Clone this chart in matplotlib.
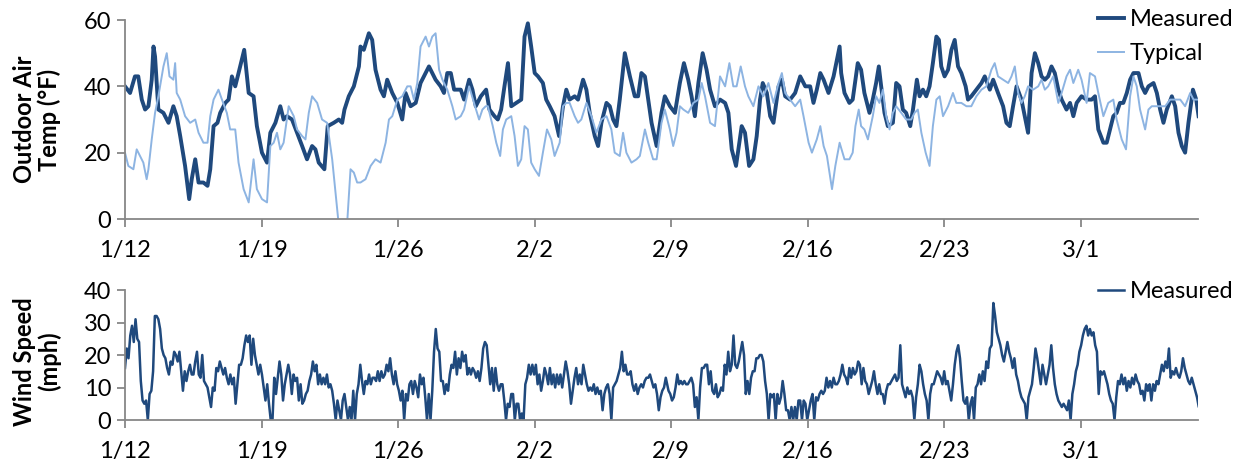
"""Outdoor air temperature (measured vs typical) and measured wind speed, 1/12 - 3/7."""

import matplotlib

matplotlib.use("Agg")
import matplotlib.pyplot as plt
import numpy as np

DATE_TICKS = [0, 7, 14, 21, 28, 35, 42, 49]  # days since 1/12
DATE_LABELS = ["1/12", "1/19", "1/26", "2/2", "2/9", "2/16", "2/23", "3/1"]

# (day since 1/12, degF)
measured_temp = [
    (0.00, 40), (0.26, 38), (0.51, 43), (0.68, 43), (0.86, 36), (1.03, 33), (1.20, 34), (1.37, 42),
    (1.46, 52), (1.54, 49), (1.71, 33), (1.97, 32), (2.23, 29), (2.48, 34), (2.65, 31), (2.83, 25),
    (3.08, 16), (3.29, 6), (3.42, 12), (3.60, 18), (3.77, 11), (4.02, 11), (4.23, 10), (4.37, 15),
    (4.54, 28), (4.74, 29), (4.88, 32), (5.14, 35), (5.31, 36), (5.48, 43), (5.65, 40), (5.82, 44),
    (6.11, 51), (6.34, 38), (6.59, 37), (6.76, 28), (7.02, 20), (7.28, 17), (7.45, 26), (7.71, 29),
    (7.96, 34), (8.13, 30), (8.30, 31), (8.56, 30), (8.82, 26), (9.08, 22), (9.33, 18), (9.59, 22),
    (9.76, 21), (9.93, 17), (10.22, 15), (10.39, 28), (10.70, 29), (10.96, 30), (11.13, 29), (11.25, 33),
    (11.47, 37), (11.73, 40), (11.99, 46), (12.07, 52), (12.24, 51), (12.50, 56), (12.67, 54), (12.84, 45),
    (13.10, 39), (13.27, 37), (13.44, 42), (13.70, 38), (13.96, 35), (14.21, 30), (14.38, 38), (14.64, 34),
    (14.90, 35), (15.15, 41), (15.41, 44), (15.58, 46), (15.92, 42), (16.18, 40), (16.35, 38), (16.52, 44),
    (16.70, 44), (16.87, 39), (17.04, 39), (17.21, 39), (17.38, 36), (17.64, 42), (17.81, 39), (17.98, 34),
    (18.24, 37), (18.51, 39), (18.68, 33), (18.94, 31), (19.11, 30), (19.28, 33), (19.45, 40), (19.63, 47),
    (19.80, 34), (20.05, 35), (20.31, 36), (20.48, 55), (20.65, 59), (20.82, 52), (21.00, 44), (21.17, 43),
    (21.42, 41), (21.59, 36), (21.77, 34), (22.02, 31), (22.25, 25), (22.45, 34), (22.62, 39), (22.79, 36),
    (23.05, 37), (23.22, 36), (23.48, 42), (23.65, 39), (23.82, 32), (24.08, 25), (24.25, 22), (24.42, 29),
    (24.68, 35), (24.85, 34), (25.02, 30), (25.19, 28), (25.36, 36), (25.62, 50), (25.88, 43), (26.13, 37),
    (26.30, 37), (26.47, 44), (26.65, 43), (26.82, 36), (26.99, 29), (27.25, 22), (27.50, 32), (27.67, 37),
    (27.93, 34), (28.19, 32), (28.44, 41), (28.65, 47), (28.87, 42), (29.04, 37), (29.21, 31), (29.39, 41),
    (29.61, 50), (29.81, 45), (29.99, 39), (30.24, 34), (30.50, 36), (30.76, 35), (30.93, 32), (31.10, 21),
    (31.32, 16), (31.61, 28), (31.78, 26), (31.99, 16), (32.21, 18), (32.38, 25), (32.55, 36), (32.69, 41),
    (32.90, 38), (33.07, 31), (33.24, 29), (33.50, 40), (33.67, 42), (33.84, 37), (34.09, 36), (34.35, 38),
    (34.61, 43), (34.87, 40), (35.12, 40), (35.29, 35), (35.46, 39), (35.64, 44), (35.81, 42), (36.06, 38),
    (36.32, 43), (36.49, 48), (36.63, 52), (36.71, 44), (36.88, 38), (37.13, 35), (37.30, 36), (37.56, 47),
    (37.73, 45), (37.90, 38), (38.16, 32), (38.33, 36), (38.50, 41), (38.64, 46), (38.76, 40), (38.93, 32),
    (39.10, 28), (39.36, 29), (39.53, 41), (39.70, 40), (39.87, 33), (40.04, 32), (40.25, 28), (40.39, 33),
    (40.59, 42), (40.73, 37), (40.90, 39), (41.07, 37), (41.24, 40), (41.41, 47), (41.59, 55), (41.72, 54),
    (41.84, 46), (42.01, 43), (42.19, 45), (42.36, 51), (42.53, 54), (42.70, 46), (42.87, 44), (43.09, 40),
    (43.21, 36), (43.38, 37), (43.64, 39), (43.90, 41), (44.07, 43), (44.33, 39), (44.50, 42), (44.75, 38),
    (45.01, 34), (45.18, 29), (45.35, 28), (45.52, 34), (45.70, 40), (45.95, 36), (46.12, 31), (46.29, 26),
    (46.47, 44), (46.64, 50), (46.81, 47), (46.98, 43), (47.15, 42), (47.32, 43), (47.49, 46), (47.66, 44),
    (47.84, 39), (48.01, 36), (48.26, 33), (48.44, 35), (48.61, 31), (48.78, 35), (49.03, 37), (49.29, 36),
    (49.55, 36), (49.72, 37), (49.89, 27), (50.15, 23), (50.32, 23), (50.49, 27), (50.66, 31), (50.83, 32),
    (51.00, 35), (51.17, 35), (51.35, 38), (51.52, 42), (51.69, 44), (51.95, 44), (52.12, 40), (52.29, 38),
    (52.46, 40), (52.72, 41), (52.89, 38), (53.06, 33), (53.23, 29), (53.40, 33), (53.66, 37), (53.83, 34),
    (54.00, 26), (54.17, 22), (54.34, 20), (54.51, 29), (54.74, 39), (54.91, 36), (55.03, 31),
]

typical_temp = [
    (0.00, 20), (0.17, 16), (0.43, 15), (0.60, 21), (0.77, 19), (0.94, 17), (1.11, 12), (1.20, 15),
    (1.37, 24), (1.54, 32), (1.71, 37), (1.97, 46), (2.14, 50), (2.28, 43), (2.48, 42), (2.57, 47),
    (2.65, 38), (2.83, 36), (3.08, 31), (3.34, 29), (3.60, 30), (3.77, 26), (4.02, 23), (4.23, 23),
    (4.37, 31), (4.54, 36), (4.79, 39), (4.97, 36), (5.22, 32), (5.39, 27), (5.65, 27), (5.82, 17),
    (6.08, 9), (6.34, 5), (6.59, 18), (6.76, 9), (7.02, 6), (7.28, 5), (7.45, 22), (7.62, 23),
    (7.79, 26), (7.96, 21), (8.13, 23), (8.39, 34), (8.65, 31), (8.82, 27), (9.08, 25), (9.25, 24),
    (9.42, 32), (9.59, 37), (9.85, 35), (10.10, 30), (10.36, 29), (10.62, 18), (10.79, 8), (10.96, -2),
    (11.22, -2), (11.39, -1), (11.56, 15), (11.73, 14), (11.90, 11), (12.07, 11), (12.33, 12), (12.59, 16),
    (12.84, 18), (13.10, 17), (13.36, 23), (13.53, 30), (13.70, 31), (13.96, 36), (14.21, 37), (14.47, 40),
    (14.64, 40), (14.81, 36), (14.98, 41), (15.15, 52), (15.41, 55), (15.58, 52), (15.75, 55), (15.92, 56),
    (16.10, 45), (16.27, 42), (16.52, 39), (16.78, 34), (16.95, 30), (17.21, 31), (17.38, 33), (17.64, 40),
    (17.89, 35), (18.15, 30), (18.32, 33), (18.49, 34), (18.60, 34), (18.85, 28), (19.03, 23), (19.23, 19),
    (19.37, 27), (19.54, 30), (19.80, 31), (19.97, 25), (20.14, 16), (20.31, 18), (20.48, 28), (20.65, 27),
    (20.82, 17), (21.00, 15), (21.22, 13), (21.42, 20), (21.63, 27), (21.85, 24), (22.02, 19), (22.28, 23),
    (22.45, 34), (22.62, 35), (22.79, 35), (23.05, 31), (23.22, 29), (23.39, 30), (23.65, 35), (23.91, 31),
    (24.16, 26), (24.42, 30), (24.68, 31), (24.93, 27), (25.10, 20), (25.36, 19), (25.53, 26), (25.70, 20),
    (25.96, 17), (26.22, 18), (26.39, 19), (26.65, 27), (26.82, 23), (27.07, 18), (27.25, 18), (27.50, 29),
    (27.67, 33), (27.93, 27), (28.10, 22), (28.27, 26), (28.44, 34), (28.62, 33), (28.87, 32), (29.13, 35),
    (29.39, 36), (29.56, 41), (29.73, 37), (29.99, 29), (30.24, 28), (30.50, 43), (30.76, 40), (30.98, 47),
    (31.18, 40), (31.35, 40), (31.56, 46), (31.78, 40), (31.95, 37), (32.21, 34), (32.47, 40), (32.72, 37),
    (32.98, 41), (33.24, 35), (33.50, 41), (33.67, 44), (33.84, 38), (34.09, 36), (34.35, 34), (34.61, 36),
    (34.78, 31), (35.04, 23), (35.21, 20), (35.46, 24), (35.64, 28), (35.81, 22), (35.98, 19), (36.24, 9),
    (36.41, 16), (36.63, 23), (36.88, 18), (37.13, 18), (37.30, 20), (37.44, 28), (37.61, 33), (37.73, 28),
    (37.90, 27), (38.08, 24), (38.33, 31), (38.50, 37), (38.67, 35), (38.85, 39), (39.02, 31), (39.19, 27),
    (39.36, 32), (39.53, 34), (39.79, 32), (40.04, 30), (40.30, 30), (40.47, 32), (40.64, 33), (40.82, 26),
    (41.04, 20), (41.24, 16), (41.41, 28), (41.59, 36), (41.76, 37), (41.93, 31), (42.19, 34), (42.44, 38),
    (42.61, 35), (42.87, 35), (43.13, 34), (43.38, 34), (43.64, 37), (43.90, 39), (44.15, 40), (44.41, 45),
    (44.58, 47), (44.75, 43), (45.01, 42), (45.27, 41), (45.44, 43), (45.61, 46), (45.78, 38), (45.95, 35),
    (46.12, 37), (46.29, 40), (46.55, 39), (46.81, 40), (46.98, 42), (47.15, 39), (47.32, 40), (47.58, 43),
    (47.84, 35), (48.01, 38), (48.26, 43), (48.44, 45), (48.61, 41), (48.86, 45), (49.03, 42), (49.29, 35),
    (49.46, 44), (49.72, 43), (49.89, 38), (50.15, 31), (50.40, 35), (50.66, 36), (50.83, 30), (51.09, 24),
    (51.31, 21), (51.52, 37), (51.69, 43), (51.86, 40), (52.03, 33), (52.29, 27), (52.46, 33), (52.63, 34),
    (52.80, 34), (53.06, 34), (53.32, 34), (53.57, 36), (53.83, 36), (54.09, 36), (54.34, 34), (54.60, 38),
    (54.77, 36), (55.03, 36),
]

# measured wind speed (mph), one reading every WIND_STEP days
WIND_STEP = 0.09
WIND_JAN_START = 0.0
wind_jan = [
    16, 22, 19, 26, 29, 24, 31, 25, 24, 12, 6, 5, 6, 0, 8, 9, 15, 32, 32, 31,
    28, 22, 20, 19, 16, 14, 18, 17, 21, 20, 18, 21, 15, 9, 15, 12, 15, 17, 14, 14,
    18, 21, 14, 13, 20, 12, 11, 10, 7, 4, 10, 9, 16, 15, 18, 16, 14, 16, 13, 11,
    14, 11, 13, 5, 11, 17, 17, 19, 23, 26, 24, 26, 17, 25, 20, 17, 14, 17, 14, 10,
    6, 11, 5, 0, 0, 13, 8, 13, 18, 14, 6, 11, 14, 17, 14, 8, 14, 12, 13, 6,
    11, 5, 6, 8, 9, 12, 14, 18, 15, 17, 11, 14, 11, 13, 11, 14, 10, 11, 9, 5,
    0, 6, 3, 0, 6, 8, 4, 0, 4, 0, 9, 0, 8, 11, 17, 12, 8, 12, 11, 14,
    11, 13, 13, 12, 15, 12, 15, 13, 14, 17, 15, 19, 14, 11, 15, 11, 9, 6, 9, 0,
    8, 6, 11, 12, 8, 12, 10, 7, 14, 11, 13, 7, 0, 8, 0, 9, 21, 28, 22, 21,
    12, 12, 8, 11, 9, 14, 17, 16, 21, 14, 19, 16, 21, 18, 20, 14, 16, 14, 16, 15,
    13, 15, 12, 16, 22, 24, 23, 17, 11, 16, 9, 16, 11, 9, 11, 11, 6, 0, 5, 4,
    8, 8, 0, 5, 5, 0, 2, 0, 11, 13, 17, 14, 17, 14, 17, 11, 14, 9, 12, 16,
    14, 11, 16, 11, 14, 10, 14, 11, 14, 10, 14, 18, 15, 11, 5, 9, 13, 16, 11, 14,
    11, 17, 14, 11, 9, 10, 9, 11, 8, 10, 8, 9, 3, 8, 10, 11, 8, 0, 10, 11,
    12, 14, 16, 21, 15, 17, 14, 14, 15, 11, 9, 11, 8, 10, 11, 10, 12, 13, 13, 14,
    12, 10, 11, 8, 3, 7, 9, 10, 13,
]
WIND_FEB_START = 27.86
wind_feb = [
    9, 8, 6, 7, 10, 14, 11, 12, 11, 12, 11, 11, 12, 13, 11, 4, 7, 0, 10, 16,
    16, 17, 17, 11, 15, 9, 8, 11, 7, 8, 10, 9, 17, 14, 21, 15, 17, 26, 17, 16,
    18, 21, 24, 20, 8, 12, 8, 13, 15, 15, 19, 19, 20, 20, 18, 12, 8, 0, 8, 7,
    8, 0, 8, 5, 7, 12, 8, 3, 3, 0, 4, 0, 4, 0, 6, 6, 0, 6, 5, 0,
    3, 6, 8, 0, 7, 6, 8, 9, 8, 9, 13, 10, 12, 10, 13, 11, 11, 12, 14, 17,
    14, 13, 11, 16, 13, 16, 14, 15, 18, 17, 11, 16, 12, 11, 8, 10, 12, 15, 11, 8,
    11, 8, 8, 5, 9, 11, 11, 12, 13, 14, 12, 13, 23, 11, 9, 7, 10, 8, 9, 7,
    0, 7, 11, 17, 15, 11, 8, 6, 0, 8, 11, 11, 13, 15, 14, 13, 11, 15, 11, 12,
    9, 6, 11, 17, 21, 23, 19, 12, 6, 5, 7, 0, 5, 7, 0, 10, 11, 14, 11, 15,
    12, 18, 16, 22, 23, 36, 32, 27, 25, 23, 20, 18, 21, 24, 21, 19, 16, 19, 14, 12,
    9, 7, 6, 5, 0, 7, 9, 11, 16, 22, 19, 15, 11, 17, 14, 11, 14, 17, 23, 16,
    11, 8, 6, 5, 4, 5, 4, 3, 6, 0, 8, 11, 15, 17, 21, 23, 26, 28, 29, 26,
    28, 26, 27, 23, 21, 8, 15, 14, 15, 13, 11, 8, 6, 5, 0, 7, 12, 11, 14, 11,
    13, 9, 12, 10, 13, 11, 14, 12, 11, 8, 9, 6, 11, 9, 11, 6, 11, 9, 12, 11,
    14, 17, 15, 18, 16, 22, 13, 15, 14, 16, 14, 13, 15, 19, 16, 14, 12, 11, 13, 11,
    9, 7, 4, 11, 14,
]

DARK = "#1F497D"
LIGHT = "#8DB4E2"
AXIS_GREY = "#878787"
FS = 17

plt.rcParams["font.family"] = ["Lato", "DejaVu Sans"]
plt.rcParams["font.size"] = FS


def style_axes(ax, yticks):
    for side in ("top", "right"):
        ax.spines[side].set_visible(False)
    for side in ("left", "bottom"):
        ax.spines[side].set_color(AXIS_GREY)
        ax.spines[side].set_linewidth(1.3)
    ax.tick_params(axis="both", direction="out", length=6, width=1.3,
                   color=AXIS_GREY, labelsize=FS, pad=4)
    ax.set_xlim(0, 55)
    ax.set_xticks(DATE_TICKS)
    ax.set_xticklabels(DATE_LABELS)
    ax.set_yticks(yticks)
    ax.set_ylim(yticks[0], yticks[-1])
    ax.tick_params(axis="x", pad=9)


def set_ylabel(ax, text, y):
    ax.set_ylabel(text, fontweight="bold", linespacing=1.1, va="center")
    ax.yaxis.set_label_coords((37 - 125) / 1073, y)


fig = plt.figure(figsize=(12.48, 4.69), dpi=100)
W, H = 1248, 469
ax_t = fig.add_axes([125 / W, 1 - 219 / H, (1198 - 125) / W, (219 - 20) / H])
ax_w = fig.add_axes([125 / W, 1 - 420 / H, (1198 - 125) / W, (420 - 290) / H])

md, mt = zip(*measured_temp)
td, tt = zip(*typical_temp)
ax_t.plot(md, mt, color=DARK, lw=2.8, label="Measured", solid_joinstyle="round")
ax_t.plot(td, tt, color=LIGHT, lw=1.4, label="Typical")
style_axes(ax_t, [0, 20, 40, 60])
set_ylabel(ax_t, "Outdoor Air\nTemp (°F)", 0.5)
ax_t.legend(loc="upper left", bbox_to_anchor=(1098 / W, 1 - 9 / H), bbox_transform=fig.transFigure,
            frameon=False, borderpad=0, handlelength=1.1, handletextpad=0.25, labelspacing=0.55,
            borderaxespad=0)

wd_jan = WIND_JAN_START + WIND_STEP * np.arange(len(wind_jan))
wd_feb = WIND_FEB_START + WIND_STEP * np.arange(len(wind_feb))
ax_w.plot(np.concatenate([wd_jan, wd_feb]), wind_jan + wind_feb, color=DARK, lw=1.8,
          label="Measured", solid_joinstyle="round")
style_axes(ax_w, [0, 10, 20, 30, 40])
set_ylabel(ax_w, "Wind Speed\n(mph)", 0.45)
ax_w.legend(loc="upper left", bbox_to_anchor=(1098 / W, 1 - 281 / H), bbox_transform=fig.transFigure,
            frameon=False, borderpad=0, handlelength=1.1, handletextpad=0.25, borderaxespad=0)

fig.savefig("out.png", dpi=100)
